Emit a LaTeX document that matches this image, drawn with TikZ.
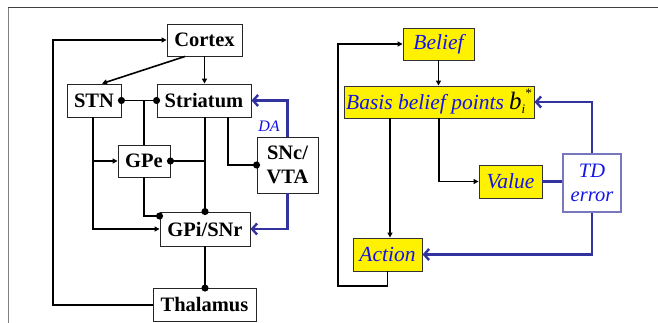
\documentclass[tikz,border=0pt]{standalone}
\usepackage{fontspec}
\setmainfont{Liberation Serif}
\newfontfamily\tnr{Liberation Serif}
\usetikzlibrary{arrows.meta}
\definecolor{txtblue}{RGB}{20,20,230}
\definecolor{linkblue}{RGB}{51,51,160}
\definecolor{tdborder}{RGB}{120,120,190}
\begin{document}
\begin{tikzpicture}[x=1pt,y=-1pt,
 lbox/.style={draw=black!85, line width=0.9pt, fill=white, inner sep=0pt, font=\tnr\fontsize{20.5}{24}\selectfont\bfseries, align=center},
 rbox/.style={draw=black!80, line width=0.9pt, fill=yellow, inner sep=0pt, text=txtblue, font=\tnr\fontsize{21.5}{24}\selectfont\itshape, align=center},
 conn/.style={line width=1.6pt, black},
 arr/.style={conn, -{Triangle[length=5pt,width=5pt]}},
 inh/.style={conn, -{Circle[length=7pt]}, shorten >=-3.5pt},
 inhboth/.style={conn, {Circle[length=7pt]}-{Circle[length=7pt]}, shorten >=-3.5pt, shorten <=-3.5pt},
 barr/.style={line width=2.6pt, linkblue, -{Straight Barb[length=5pt,width=11pt,line width=2.4pt]}},
 bline/.style={line width=2.6pt, linkblue},
]
\useasboundingbox (0,0) rectangle (658,323);
\fill[white] (0,0) rectangle (658,323);
% frame
\draw[line width=1pt, black!50] (8,323) -- (8,7.5);
\draw[line width=1.3pt, black!75] (7.5,7.5) -- (658,7.5);

% left panel nodes
\node[lbox, minimum width=75pt, minimum height=32pt] (cortex) at (204.5,40) {Cortex};
\node[lbox, minimum width=54pt, minimum height=33pt] (stn) at (94,100.5) {STN};
\node[lbox, minimum width=94pt, minimum height=33pt] (str) at (204,100.5) {Striatum};
\node[lbox, minimum width=52pt, minimum height=32pt] (gpe) at (144,161) {GPe};
\node[lbox, minimum width=61pt, minimum height=56pt] (snc) at (287.5,165) {SNc/\\VTA};
\node[lbox, minimum width=90pt, minimum height=34pt] (gpi) at (205,229) {GPi/SNr};
\node[lbox, minimum width=103pt, minimum height=33pt] (thal) at (204.5,305) {Thalamus};
\node[text=txtblue, font=\tnr\fontsize{16}{16}\selectfont\itshape, inner sep=0pt] (da) at (269,126) {DA};

% left connectors
\coordinate (lc) at (53,305);
\draw[arr] (thal.west) -- (lc) |- (cortex.west);
\draw[arr] ([xshift=-19.5pt]cortex.south) -- ([xshift=8pt]stn.north);
\draw[arr] (cortex.south) -- (cortex.south |- str.north);
\draw[inhboth] (stn.east) -- (str.west);
\draw[conn] (gpe.north) -- (gpe.north |- stn.east);
\draw[arr] ([xshift=-1pt]stn.south) |- (gpi.west);
\draw[arr] ([xshift=-1pt]stn.south |- gpe.west) -- (gpe.west);
\draw[inh] ([xshift=1pt]str.south) -- ([xshift=1pt]str.south |- gpi.north);
\draw[inh] ([xshift=1pt]str.south |- gpe.east) -- (gpe.east);
\draw[inh] ([xshift=24pt]str.south) |- (snc.west);
\draw[inh] (gpe.south) |- ([yshift=13pt]gpi.west);
\draw[inh] (gpi.south) -- (gpi.south |- thal.north);
\draw[barr] (snc.north) |- (str.east);
\draw[barr] (snc.south) |- (gpi.east);

% right panel nodes
\node[rbox, minimum width=71pt, minimum height=32pt] (belief) at (438.5,44) {Belief};
\node[rbox, minimum width=190pt, minimum height=32pt] (basis) at (439,102) {Basis belief points {\color{black}\fontsize{25}{25}\selectfont b\textsubscript{\fontsize{13}{13}\selectfont i}\hspace{-1pt}\raisebox{3pt}{\textsuperscript{\fontsize{13}{13}\selectfont *}}}};
\node[rbox, minimum width=63pt, minimum height=33pt] (value) at (510.5,181.5) {Value};
\node[rbox, fill=white, draw=tdborder, line width=1.3pt, font=\tnr\fontsize{20.5}{24}\selectfont\itshape, minimum width=58pt, minimum height=58pt] (td) at (592,183) {TD\\error};
\node[rbox, minimum width=69pt, minimum height=33pt] (action) at (387.5,254.5) {Action};

% right connectors
\draw[arr] (belief.south) -- (belief.south |- basis.north);
\draw[arr] ([xshift=2.5pt]action.north |- basis.south) -- ([xshift=2.5pt]action.north);
\draw[arr] (basis.south) |- (value.west);
\draw[bline] (value.east) -- (value.east -| td.west);
\draw[barr] (td.north) |- (basis.east);
\draw[barr] (td.south) |- (action.east);
\coordinate (rl) at (338,286);
\draw[arr] (action.south) |- (rl) |- (belief.west);
\end{tikzpicture}
\end{document}
